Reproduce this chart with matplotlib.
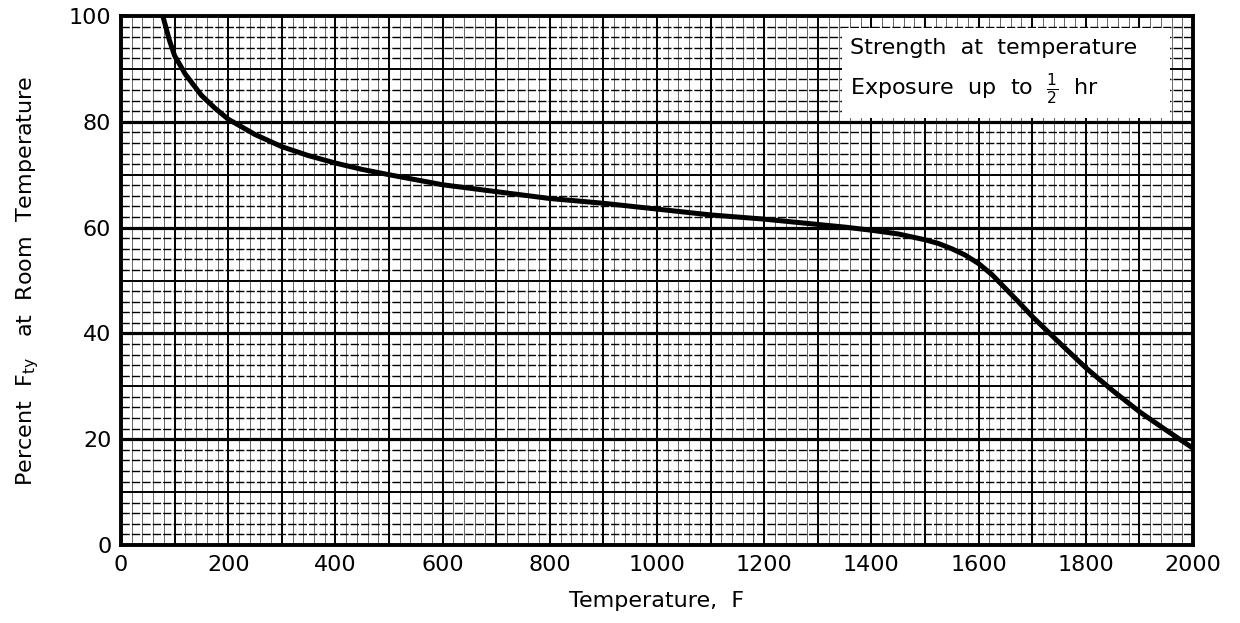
import numpy as np
import matplotlib.pyplot as plt
import matplotlib as mpl
from matplotlib.patches import Rectangle

mpl.rcParams.update({'font.size': 16, 'font.family': 'DejaVu Sans'})

# values
temp_f = [78, 90, 100, 120, 150, 175, 200, 250, 300, 350, 400, 450, 500, 600,
          700, 800, 900, 1000, 1100, 1200, 1300, 1350, 1400, 1450, 1500,
          1525, 1550, 1575, 1600, 1625, 1650, 1675, 1700, 1750, 1800, 1850,
          1900, 1950, 2000]
pct_fty = [100, 95.5, 92.5, 89, 85, 82.6, 80.5, 77.6, 75.3, 73.6, 72.2, 71,
           70, 68.1, 66.8, 65.5, 64.6, 63.5, 62.4, 61.6, 60.6, 60.1, 59.5,
           58.8, 57.7, 57, 56, 54.8, 53.2, 51.1, 48.5, 45.9, 43.2, 38.3, 33.5,
           29.2, 25.2, 21.7, 18.3]
x_ticks = [0, 200, 400, 600, 800, 1000, 1200, 1400, 1600, 1800, 2000]
y_ticks = [0, 20, 40, 60, 80, 100]
note_lines = ['Strength  at  temperature', r'Exposure  up  to  $\frac{1}{2}$  hr']

fig = plt.figure(figsize=(12.4, 6.23), dpi=100)
ax = fig.add_axes([0.0976, 0.1252, 0.8645, 0.8491])
ax.set_xlim(0, 2000)
ax.set_ylim(0, 100)

# chart paper grid
for x in np.arange(20, 2000, 20):
    if x % 100 == 0:
        ax.axvline(x, color='black', lw=1.4, zorder=1)
    else:
        ax.axvline(x, color='black', lw=0.7, alpha=0.6, zorder=1)
for y in np.arange(2, 100, 2):
    if y % 20 == 0:
        ax.axhline(y, color='black', lw=2.3, zorder=1)
    elif y % 10 == 0:
        ax.axhline(y, color='black', lw=1.4, zorder=1)
    else:
        ax.axhline(y, color='black', lw=1.0, ls=(0, (6, 1.5)), zorder=1)

# note box
ax.add_patch(Rectangle((1345, 80.8), 612, 17.0, facecolor='white',
                       edgecolor='none', zorder=2))
ax.text(1360, 94.0, note_lines[0], fontsize=16, va='center', ha='left', zorder=3)
ax.text(1360, 86.3, note_lines[1], fontsize=16, va='center', ha='left', zorder=3)

ax.plot(temp_f, pct_fty, color='black', lw=3.6, solid_joinstyle='round',
        zorder=4)

ax.set_xticks(x_ticks)
ax.set_yticks(y_ticks)
ax.tick_params(length=0, pad=7, labelsize=16)
for s in ax.spines.values():
    s.set_linewidth(2.8)
    s.set_zorder(5)

ax.set_xlabel('Temperature,  F', fontsize=16, labelpad=12)
ax.set_ylabel(r'Percent  F$_{\rm ty}$   at  Room  Temperature', fontsize=16,
              labelpad=20)

fig.savefig('out.png', dpi=100)
